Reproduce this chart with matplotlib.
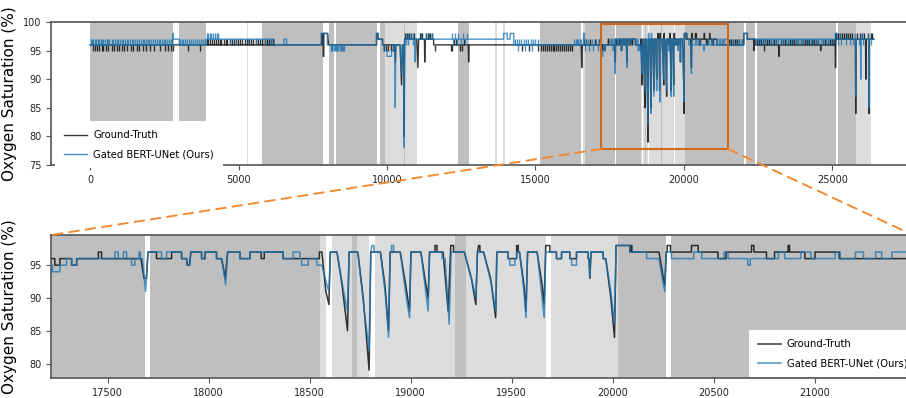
import numpy as np
import matplotlib.pyplot as plt
from matplotlib.patches import Rectangle, ConnectionPatch

# ---------------- data (time index, SpO2 %) ----------------
# ground truth, before the zoomed window
gt_pre = [(0, 96), (7800, 96), (7800, 98), (7850, 98), (7850, 94), (7870, 94), (7870, 98), (8000, 98),
          (8030, 96), (9650, 96), (9650, 98), (9700, 98), (9700, 97), (9850, 97), (9850, 96),
          (10250, 96), (10280, 93), (10300, 96), (10440, 96), (10490, 89), (10520, 96), (10560, 96),
          (10575, 80), (10592, 97), (11000, 97), (11040, 92), (11065, 97), (11260, 97), (11270, 93),
          (11285, 97), (11570, 97), (11570, 96), (12735, 96), (12750, 93), (12765, 96), (16540, 96),
          (16560, 92), (16580, 96)]

# ground truth inside the zoomed window
gt_zoom = [(17220, 96), (17239, 96), (17239, 95), (17264, 95), (17264, 96), (17322, 96), (17322, 95),
           (17347, 95), (17347, 96), (17454, 96), (17454, 97), (17470, 97), (17470, 96), (17665, 96),
           (17680, 93), (17692, 93), (17700, 97), (17742, 97), (17742, 96), (17817, 96), (17817, 97),
           (17866, 97), (17866, 96), (17891, 96), (17895, 95), (17905, 95), (17912, 97), (17965, 97),
           (17965, 96), (17982, 96), (17982, 97), (18039, 97), (18039, 96), (18064, 96), (18082, 93),
           (18094, 97), (18155, 97), (18155, 96), (18204, 96), (18204, 97), (18260, 97), (18260, 96),
           (18275, 96), (18275, 97), (18369, 97), (18369, 96), (18548, 96), (18548, 97), (18560, 97),
           (18580, 91), (18595, 89), (18602, 97), (18635, 97), (18660, 92), (18687, 85), (18695, 97),
           (18738, 97), (18765, 90), (18794, 79), (18802, 97), (18850, 97), (18872, 92), (18890, 85),
           (18898, 97), (18948, 97), (18975, 92), (18994, 88), (19001, 97), (19050, 97), (19070, 93),
           (19086, 90), (19093, 97), (19120, 97), (19120, 98), (19130, 98), (19130, 97), (19160, 97),
           (19185, 88), (19198, 98), (19212, 98), (19212, 97), (19265, 97), (19300, 93), (19322, 89),
           (19330, 97), (19336, 98), (19342, 98), (19342, 97), (19360, 97), (19395, 93), (19420, 87),
           (19426, 97), (19482, 97), (19482, 96), (19524, 96), (19524, 98), (19532, 98), (19532, 97),
           (19538, 97), (19560, 92), (19570, 88), (19578, 97), (19625, 97), (19650, 92), (19660, 89),
           (19668, 98), (19688, 98), (19688, 97), (19721, 97), (19721, 96), (19746, 96), (19746, 97),
           (19787, 97), (19787, 96), (19820, 96), (19820, 97), (19878, 97), (19878, 96), (19882, 96),
           (19886, 93), (19892, 97), (19952, 97), (19952, 96), (19965, 96), (19990, 90), (20008, 84),
           (20016, 98), (20084, 98), (20084, 97), (20088, 97), (20088, 98), (20094, 98), (20094, 97),
           (20228, 97), (20250, 93), (20257, 92), (20264, 97), (20269, 97), (20269, 98), (20285, 98),
           (20285, 97), (20389, 97), (20389, 98), (20422, 98), (20422, 97), (20520, 97), (20520, 96),
           (20560, 96), (20560, 97), (20686, 97), (20686, 98), (20698, 98), (20698, 97), (20760, 97),
           (20760, 96), (20800, 96), (20800, 97), (20867, 97), (20867, 98), (20874, 98), (20874, 97),
           (20950, 97), (20950, 96), (21000, 96), (21000, 97), (21120, 97), (21120, 96), (21485, 96)]

# ground truth, after the zoomed window
gt_post = [(22020, 96), (22020, 98), (22140, 98), (22140, 97), (22350, 97), (22360, 95), (22370, 97),
           (22400, 97), (22400, 96), (23190, 96), (23200, 94), (23210, 96), (24600, 96), (24610, 95),
           (24620, 96), (25100, 96), (25110, 92), (25125, 98), (25140, 98), (25140, 97), (25780, 97),
           (25790, 84), (25800, 97), (26120, 97), (26130, 90), (26140, 97), (26230, 97), (26240, 84),
           (26250, 97), (26400, 97)]

# prediction (Gated BERT-UNet)
pred_pre = [(0, 96), (2780, 96), (2780, 98), (2800, 98), (2800, 97), (3000, 97), (3000, 96), (3900, 96),
            (3900, 97), (6200, 97), (6200, 96), (6530, 96), (6530, 97), (6620, 97), (6620, 96),
            (7780, 96), (7780, 98), (7990, 98), (7990, 96), (9640, 96), (9640, 98), (9700, 98),
            (9700, 97), (9850, 97), (9850, 96), (9900, 96), (9900, 95), (10000, 95), (10000, 94),
            (10150, 94), (10150, 95), (10230, 95), (10230, 96), (10262, 96), (10278, 85), (10295, 96),
            (10440, 96), (10490, 91), (10520, 96), (10562, 96), (10580, 78), (10598, 97), (10940, 97),
            (10950, 93), (10962, 97), (13930, 97), (13930, 98), (14050, 98), (14050, 97), (14150, 97),
            (14150, 98), (14270, 98), (14270, 96), (16620, 96), (16620, 98), (16650, 98), (16650, 96),
            (17210, 96), (17210, 95)]

pred_zoom = [(17220, 95), (17228, 95), (17228, 94), (17264, 94), (17264, 95), (17297, 95), (17297, 96),
             (17322, 96), (17322, 95), (17347, 95), (17347, 96), (17536, 96), (17536, 97), (17553, 97),
             (17553, 96), (17578, 96), (17578, 97), (17594, 97), (17594, 96), (17619, 96), (17619, 95),
             (17635, 95), (17635, 96), (17655, 96), (17655, 97), (17662, 97), (17662, 96), (17672, 96),
             (17688, 91), (17700, 97), (17767, 97), (17767, 96), (17792, 96), (17792, 97), (17866, 97),
             (17866, 96), (17891, 96), (17891, 95), (17907, 95), (17912, 97), (17965, 97), (17965, 96),
             (17982, 96), (17982, 97), (18039, 97), (18039, 96), (18066, 96), (18084, 92), (18094, 97),
             (18155, 97), (18155, 96), (18204, 96), (18204, 97), (18369, 97), (18369, 96), (18418, 96),
             (18418, 97), (18451, 97), (18451, 96), (18460, 96), (18460, 95), (18493, 95), (18493, 96),
             (18535, 96), (18535, 95), (18560, 95), (18585, 92), (18595, 91), (18603, 97), (18635, 97),
             (18668, 91), (18687, 88), (18695, 97), (18738, 97), (18770, 88), (18794, 82), (18802, 97),
             (18808, 98), (18818, 98), (18818, 97), (18850, 97), (18876, 90), (18890, 84), (18898, 97),
             (18905, 97), (18905, 98), (18915, 98), (18915, 97), (18948, 97), (18978, 90), (18994, 87),
             (19001, 97), (19050, 97), (19074, 91), (19086, 88), (19093, 97), (19155, 97), (19155, 96),
             (19170, 96), (19190, 86), (19200, 97), (19265, 97), (19300, 93), (19322, 90), (19330, 97),
             (19360, 97), (19400, 92), (19420, 88), (19426, 97), (19482, 97), (19482, 96), (19490, 96),
             (19490, 95), (19515, 95), (19515, 96), (19524, 96), (19524, 97), (19538, 97), (19560, 91),
             (19570, 87), (19578, 97), (19625, 97), (19650, 90), (19660, 87), (19668, 97), (19721, 97),
             (19721, 96), (19746, 96), (19746, 97), (19787, 97), (19787, 96), (19796, 96), (19796, 95),
             (19820, 95), (19820, 97), (19878, 97), (19878, 96), (19882, 96), (19886, 93), (19892, 97),
             (19952, 97), (19952, 96), (19965, 96), (19990, 91), (20008, 86), (20016, 98), (20084, 98),
             (20084, 97), (20167, 97), (20167, 96), (20228, 96), (20250, 92), (20257, 91), (20264, 97),
             (20290, 97), (20290, 96), (20400, 96), (20400, 97), (20440, 97), (20440, 96), (20550, 96),
             (20550, 97), (20570, 97), (20570, 96), (20668, 96), (20668, 95), (20680, 95), (20680, 96),
             (20820, 96), (20820, 97), (20850, 97), (20850, 96), (20930, 96), (20930, 97), (20980, 97),
             (20980, 96), (21100, 96), (21100, 97), (21125, 97), (21125, 96), (21200, 96), (21200, 97),
             (21240, 97), (21240, 96), (21300, 96), (21300, 97), (21330, 97), (21330, 96), (21380, 96),
             (21380, 97), (21485, 97)]

pred_post = [(21500, 97), (21500, 96), (22020, 96), (22020, 98), (22140, 98), (22140, 97), (25100, 97),
             (25100, 98), (25170, 98), (25170, 97), (25780, 97), (25790, 87), (25800, 97), (25950, 97),
             (25960, 90), (25970, 97), (26230, 97), (26240, 85), (26250, 97), (26400, 97)]

# short one-level excursions in the full-night view
gt_down_t = [106, 162, 240, 308, 387, 443, 533, 612, 724, 803, 893, 983, 1062, 1141, 1231, 1366, 1456,
             1568, 1658, 1793, 1883, 2018, 2153, 2356, 2524, 2637, 2716, 2783, 3300, 3700, 9900, 9960,
             10050, 10130, 10200, 11620, 12150, 12200, 12450, 12520, 14550, 14800, 15075, 15200, 15260,
             15330, 15390, 15450, 15520, 15580, 15640, 15700, 15770, 15830, 15900, 15960, 16030, 16100,
             16170, 16230, 22700]                      # 96 -> 95
gt_up_t = [3920, 3980, 4040, 4100, 4160, 4230, 4300, 4360, 4420, 4500, 4560, 4620, 4700, 4770, 4840,
           4900, 4980, 5050, 5120, 5200, 5280, 5350, 5420, 5500, 5580, 5650, 5720, 5800, 5880, 5950,
           6020, 6100, 6170, 12250, 12330, 12600, 16650, 16700, 16850, 17000, 17150, 21520, 21580,
           21640, 21720, 21800, 21870, 21950, 22450, 22520, 22590, 22660, 22740, 22810, 22880, 22950,
           23030, 23100, 23280, 23350, 23420, 23500, 23570, 23640, 23720, 23790, 23860, 23940, 24010,
           24090, 24160, 24230, 24310, 24380, 24450, 24530, 24700, 24770, 24850, 24920, 24990, 25060]  # 96 -> 97
gt_up2_t = [10620, 10680, 10750, 10820, 10900, 11100, 11140, 11180, 11330, 11370, 11410, 11450, 11500,
            25200, 25260, 25330, 25400, 25470, 25540, 25610, 25680, 25850, 25920, 26000, 26060, 26190,
            26300, 26350]                              # 97 -> 98

pred_up_t = [20, 70, 100, 150, 210, 250, 300, 350, 410, 440, 500, 560, 610, 650, 720, 760, 830, 900,
             940, 1000, 1060, 1090, 1160, 1230, 1270, 1340, 1410, 1450, 1520, 1590, 1630, 1700, 1770,
             1810, 1880, 1950, 1990, 2060, 2130, 2170, 2240, 2310, 2350, 2420, 2490, 2530, 2600, 2670,
             2710, 2750, 3020, 3080, 3140, 3200, 3260, 3320, 3400, 3460, 3520, 3600, 3680, 3740, 3800,
             3860, 14300, 14370, 14440, 14520, 14600, 14680, 14760, 14850, 14930, 15000, 15100, 16300,
             16350, 16400, 16450, 16500, 16540, 16700, 16760, 16900, 17050, 17150, 21550, 21650, 21750,
             21850, 21950]                             # 96 -> 97
pred_up2_t = [3920, 3970, 4030, 4080, 4140, 4200, 4260, 4320, 10640, 10720, 10800, 10880, 11150,
              11300, 11420, 11520, 12180, 12280, 12400, 12560, 12700, 25250, 25500, 25750, 26000,
              26200]                                   # 97 -> 98
pred_down_t = [4700, 4900, 5300, 5600, 5900, 6100, 10650, 10700, 10860, 12220, 12350, 12480, 12620,
               22430, 22500, 22580, 22660, 22750, 22830, 22920, 23000, 23090, 23170, 23260, 23340,
               23430, 23510, 23600, 23680, 23770, 23850, 23940, 24020, 24110, 24190, 24280, 24360,
               24450, 24530, 24620, 24700, 24790, 24870, 24960, 25040, 25200, 25300, 25450, 25600,
               25700, 25900, 26050, 26300]             # 97 -> 96
pred_down2_t = [8100, 8130, 8160, 8200, 8240, 8280, 8320, 8360, 8400, 8440, 8480, 8520, 8560, 14400,
                14650, 14900, 16680, 16800, 16950, 17100]  # 96 -> 95

# background shading (two shades of gray)
dark_start = [0, 3000, 5800, 8050, 8270, 9770, 10560, 12380, 15140, 16680, 17711, 18707, 19218,
              20027, 20290, 22080, 22450, 25190, 25850, 26000, 26180]
dark_end = [2800, 3900, 7860, 8200, 9660, 9940, 10620, 12750, 16550, 17685, 18550, 18732, 19273,
            20262, 22020, 22410, 25130, 25790, 25950, 26100, 26260]
light_start = [5270, 9940, 10620, 13650, 13910, 16610, 18550, 18611, 18732, 18822, 19273, 19693, 25790]
light_end = [5330, 10560, 11010, 13700, 13960, 16680, 18583, 18707, 18794, 19218, 19669, 20027, 26300]

zoom_x = (17220, 21485)
zoom_y = (77.8, 99.6)

# ---------------- plotting ----------------
gt = np.array(gt_pre + gt_zoom + gt_post, dtype=float)
pred = np.array(pred_pre + pred_zoom + pred_post, dtype=float)

GT_COLOR, GT_ALPHA = '#111111', 0.85
PR_COLOR, PR_ALPHA = '#1f77b4', 0.8

fig = plt.figure(figsize=(9.06, 3.98), dpi=100)
ax_top = fig.add_axes([51 / 906, 1 - 165 / 398, 862 / 906, 143 / 398])
ax_bot = fig.add_axes([51 / 906, 1 - 378 / 398, 862 / 906, 143 / 398])


def draw(ax, lw, spikes):
    for s, e in zip(dark_start, dark_end):
        ax.axvspan(s, e, color='#bfbfbf', lw=0, zorder=0)
    for s, e in zip(light_start, light_end):
        ax.axvspan(s, e, color='#dcdcdc', lw=0, zorder=0)
    ax.plot(gt[:, 0], gt[:, 1], color=GT_COLOR, alpha=GT_ALPHA, lw=lw, label='Ground-Truth', zorder=2)
    ax.plot(pred[:, 0], pred[:, 1], color=PR_COLOR, alpha=PR_ALPHA, lw=lw,
            label='Gated BERT-UNet (Ours)', zorder=3)
    if spikes:
        ax.vlines(gt_down_t, 95, 96, color=GT_COLOR, alpha=GT_ALPHA, lw=lw, zorder=2)
        ax.vlines(gt_up_t, 96, 97, color=GT_COLOR, alpha=GT_ALPHA, lw=lw, zorder=2)
        ax.vlines(gt_up2_t, 97, 98, color=GT_COLOR, alpha=GT_ALPHA, lw=lw, zorder=2)
        ax.vlines(pred_up_t, 96, 97, color=PR_COLOR, alpha=PR_ALPHA, lw=lw, zorder=3)
        ax.vlines(pred_up2_t, 97, 98, color=PR_COLOR, alpha=PR_ALPHA, lw=lw, zorder=3)
        ax.vlines(pred_down_t, 96, 97, color=PR_COLOR, alpha=PR_ALPHA, lw=lw, zorder=3)
        ax.vlines(pred_down2_t, 95, 96, color=PR_COLOR, alpha=PR_ALPHA, lw=lw, zorder=3)
    for sp in ax.spines.values():
        sp.set_color('#555555')
        sp.set_linewidth(1.2)
    ax.tick_params(labelsize=7, length=3.5, width=0.8, color='#555555', labelcolor='#222222')
    ax.set_ylabel('Oxygen Saturation (%)', fontsize=11)
    ax.yaxis.set_label_coords(-0.039, 0.5)


draw(ax_top, 1.0, True)
ax_top.set_xlim(-1320, 27720)
ax_top.set_ylim(75, 100)
ax_top.set_yticks([75, 80, 85, 90, 95, 100])

draw(ax_bot, 1.1, False)
ax_bot.set_xlim(*zoom_x)
ax_bot.set_ylim(*zoom_y)
ax_bot.set_yticks([80, 85, 90, 95])

leg_kw = dict(fontsize=7.2, frameon=True, fancybox=False, edgecolor='none', framealpha=1,
              borderpad=0.9, labelspacing=0.9, handlelength=2.3, handletextpad=0.6,
              borderaxespad=0, loc='lower left')
ax_top.legend(bbox_to_anchor=(0.005, -0.022), **leg_kw).set_zorder(10)
ax_bot.legend(bbox_to_anchor=(0.8097, 0.004), **leg_kw).set_zorder(10)

# zoom indicator box and connectors
ax_top.add_patch(Rectangle((zoom_x[0], zoom_y[0]), zoom_x[1] - zoom_x[0], zoom_y[1] - zoom_y[0],
                           fill=False, ec='#cc6a1f', lw=1.5, zorder=6))
for xx in zoom_x:
    con = ConnectionPatch(xyA=(xx, zoom_y[0]), coordsA=ax_top.transData,
                          xyB=(xx, zoom_y[1]), coordsB=ax_bot.transData,
                          color='#f28a33', lw=1.4, linestyle=(0, (5, 3.5)))
    fig.add_artist(con)

fig.savefig('out.png', dpi=100)
